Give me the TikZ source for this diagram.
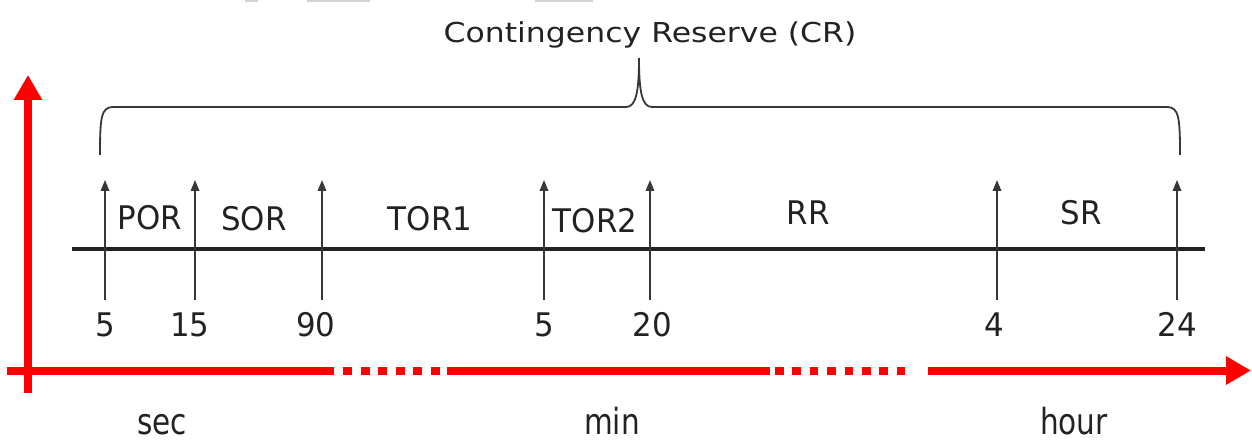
\documentclass[tikz,border=0pt]{standalone}
\usepackage{fontspec}
\setmainfont{DejaVu Sans}
\newfontfamily\titlefont[FakeStretch=1.15]{DejaVu Sans}
\newfontfamily\bandfont[FakeStretch=0.95]{DejaVu Sans}
\newfontfamily\unitfont[FakeStretch=0.82]{DejaVu Sans}
\usetikzlibrary{arrows.meta}
\definecolor{axisred}{RGB}{255,0,0}
\definecolor{ink}{RGB}{34,34,34}
\definecolor{tickgray}{RGB}{55,55,55}

\begin{document}
\begin{tikzpicture}[x=1pt,y=-1pt,
  redaxis/.style={draw=axisred, line width=8pt},
  reddots/.style={redaxis, dash pattern=on 9pt off 8.6pt},
  redhead/.style={redaxis, -{Triangle[length=25pt,width=27pt]}},
  tickarrow/.style={draw=tickgray, line width=1.7pt, -{Triangle[length=11pt,width=8.5pt]}},
  timeline/.style={draw=ink, line width=4pt},
  bracestyle/.style={draw=tickgray, line width=1.8pt},
  titletext/.style={font=\titlefont\fontsize{27.4}{30}\selectfont, text=ink, inner sep=0pt, anchor=base},
  bandtext/.style={font=\bandfont\fontsize{32.5}{36}\selectfont, text=ink, inner sep=0pt, anchor=base},
  unittext/.style={font=\unitfont\fontsize{36}{38}\selectfont, text=ink, inner sep=0pt, anchor=base}
]
\useasboundingbox (0,0) rectangle (1252,443);

% faint fragments along the top edge
\fill[gray!35] (245,0) rectangle (258,2);
\fill[gray!35] (307,0) rectangle (370,2);
\fill[gray!35] (535,0) rectangle (593,2);

% red axes
\coordinate (yaxisfoot) at (28,393);
\coordinate (yaxistip) at (28,75);
\draw[redhead] (yaxisfoot) -- (yaxistip);

\coordinate (xa) at (7,370.5);
\coordinate (xb) at (334,370.5);
\coordinate (xc) at (343,370.5);
\coordinate (xd) at (440,370.5);
\coordinate (xe) at (447,370.5);
\coordinate (xf) at (770,370.5);
\coordinate (xg) at (775,370.5);
\coordinate (xh) at (906,370.5);
\coordinate (xi) at (928,370.5);
\coordinate (xtip) at (1251,370.5);
\draw[redaxis] (xa) -- (xb);
\draw[reddots] (xc) -- (xd);
\draw[redaxis] (xe) -- (xf);
\draw[reddots, dash pattern=on 8.5pt off 8.9pt] (xg) -- (xh);
\draw[redhead] (xi) -- (xtip);

% black time line
\coordinate (tlstart) at (72,249);
\coordinate (tlend) at (1205,249);
\draw[timeline] (tlstart) -- (tlend);

% ticks with their values
\foreach \name/\x/\lx/\val in {t1/105/105.5/5, t2/195/190/15, t3/322/316/90, t4/544/544/5,
                              t5/650/652/20, t6/997/994/4, t7/1177/1177/24} {
  \coordinate (\name foot) at (\x,300);
  \coordinate (\name tip) at (\x,180);
  \draw[tickarrow] (\name foot) -- (\name tip);
  \node[bandtext] (\name val) at (\lx,337) {\val};
}

% reserve bands
\node[bandtext] (por)  at (150,230) {POR};
\node[bandtext] (sor)  at (254,230.5) {SOR};
\node[bandtext] (tor1) at (430,230.5) {TOR1};
\node[bandtext] (tor2) at (595,232.5) {TOR2};
\node[bandtext] (rr)   at (808,225) {RR};
\node[bandtext] (sr)   at (1081,225) {SR};

% brace over all bands
\draw[bracestyle] (100,155) .. controls (100,118) and (101,107) .. (113,107)
  -- (626,107) .. controls (636,107) and (639,92) .. (639,58)
  .. controls (639,92) and (642,107) .. (652,107)
  -- (1167,107) .. controls (1179,107) and (1180,118) .. (1180,155);
\node[titletext] (title) at (650,42.5) {Contingency Reserve (CR)};

% units
\node[unittext] (usec)  at (162,434) {sec};
\node[unittext] (umin)  at (612,434) {min};
\node[unittext] (uhour) at (1074,434) {hour};
\end{tikzpicture}
\end{document}
